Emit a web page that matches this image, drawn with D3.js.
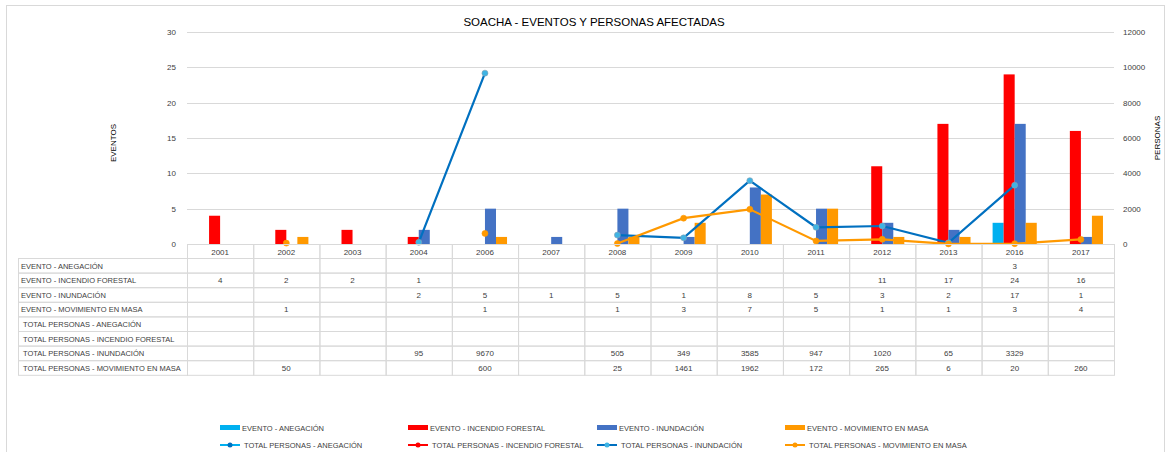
<!DOCTYPE html>
<html lang="es">
<head>
  <meta charset="UTF-8">
  <title>Soacha</title>
  <script src="https://cdn.jsdelivr.net/npm/d3@7"></script>
  <style>
    body { margin: 0; background: #fff; }
    text { font-family: 'Liberation Sans', Arial, sans-serif; fill: #404040; }
    .grid line { stroke: #d9d9d9; }
    .cell { fill: none; stroke: #d9d9d9; stroke-width: 1; }
  </style>
</head>
<body>
  <div id="chart"></div>
  <script>
    // Data
    const years = ['2001', '2002', '2003', '2004', '2006', '2007', '2008', '2009', '2010', '2011', '2012', '2013', '2016', '2017'];
    const eventoAnegacion = [null, null, null, null, null, null, null, null, null, null, null, null, 3, null];
    const eventoIncendio = [4, 2, 2, 1, null, null, null, null, null, null, 11, 17, 24, 16];
    const eventoInundacion = [null, null, null, 2, 5, 1, 5, 1, 8, 5, 3, 2, 17, 1];
    const eventoMovimiento = [null, 1, null, null, 1, null, 1, 3, 7, 5, 1, 1, 3, 4];
    const personasAnegacion = [null, null, null, null, null, null, null, null, null, null, null, null, null, null];
    const personasIncendio = [null, null, null, null, null, null, null, null, null, null, null, null, null, null];
    const personasInundacion = [null, null, null, 95, 9670, null, 505, 349, 3585, 947, 1020, 65, 3329, null];
    const personasMovimiento = [null, 50, null, null, 600, null, 25, 1461, 1962, 172, 265, 6, 20, 260];
    const leftTicks = [0, 5, 10, 15, 20, 25, 30];
    const rightTicks = [0, 2000, 4000, 6000, 8000, 10000, 12000];

    const barSeries = [
      { name: 'EVENTO  - ANEGACIÓN', values: eventoAnegacion, color: '#00b0f0' },
      { name: 'EVENTO  - INCENDIO FORESTAL', values: eventoIncendio, color: '#ff0000' },
      { name: 'EVENTO  - INUNDACIÓN', values: eventoInundacion, color: '#4472c4' },
      { name: 'EVENTO  - MOVIMIENTO EN MASA', values: eventoMovimiento, color: '#ff9900' }
    ];
    const lineSeries = [
      { name: 'TOTAL PERSONAS - ANEGACIÓN', values: personasAnegacion, color: '#00b0f0', marker: '#0070c0' },
      { name: 'TOTAL PERSONAS - INCENDIO FORESTAL', values: personasIncendio, color: '#ff0000', marker: '#ff0000' },
      { name: 'TOTAL PERSONAS - INUNDACIÓN', values: personasInundacion, color: '#0070c0', marker: '#3fb4e4' },
      { name: 'TOTAL PERSONAS - MOVIMIENTO EN MASA', values: personasMovimiento, color: '#ff9900', marker: '#ff9900' }
    ];

    const W = 1171, H = 452;
    const plot = { left: 187, right: 1114, top: 32, bottom: 244 };
    const tableLeft = 18, rowH = 14.6, headH = 14;

    const svg = d3.select('#chart').append('svg')
      .attr('width', W).attr('height', H);

    // outer frame
    svg.append('rect')
      .attr('x', 6.5).attr('y', 5.5).attr('width', 1158).attr('height', 460)
      .attr('fill', 'none').attr('stroke', '#d9d9d9');

    svg.append('text')
      .attr('x', 594).attr('y', 26)
      .attr('text-anchor', 'middle')
      .style('font-size', '11.5px').style('fill', '#000')
      .text('SOACHA - EVENTOS Y PERSONAS AFECTADAS');

    const x = d3.scaleBand().domain(years).range([plot.left, plot.right]);
    const xs = d3.scaleBand().domain(d3.range(barSeries.length))
      .range([0, x.bandwidth()]).paddingInner(0).paddingOuter(1);
    const yL = d3.scaleLinear().domain([0, 30]).range([plot.bottom, plot.top]);
    const yR = d3.scaleLinear().domain([0, 12000]).range([plot.bottom, plot.top]);

    // gridlines
    svg.append('g').attr('class', 'grid')
      .selectAll('line').data(leftTicks).enter().append('line')
      .attr('x1', plot.left).attr('x2', plot.right)
      .attr('y1', d => Math.round(yL(d)) + 0.5).attr('y2', d => Math.round(yL(d)) + 0.5);

    // left axis
    const axL = svg.append('g')
      .attr('transform', `translate(${plot.left - 8},0)`)
      .call(d3.axisLeft(yL).tickValues(leftTicks).tickSize(0));
    axL.select('.domain').remove();
    axL.selectAll('text').style('font-size', '8px').style('fill', '#404040');

    // right axis
    const axR = svg.append('g')
      .attr('transform', `translate(${plot.right + 6},0)`)
      .call(d3.axisRight(yR).tickValues(rightTicks).tickSize(0).tickFormat(d3.format('d')));
    axR.select('.domain').remove();
    axR.selectAll('text').style('font-size', '8px').style('fill', '#404040');

    svg.append('text')
      .attr('transform', `translate(116, 143) rotate(-90)`)
      .attr('text-anchor', 'middle')
      .style('font-size', '8px').style('fill', '#000')
      .text('EVENTOS');
    svg.append('text')
      .attr('transform', `translate(1160, 138) rotate(-90)`)
      .attr('text-anchor', 'middle')
      .style('font-size', '8px').style('fill', '#000')
      .text('PERSONAS');

    // bars
    barSeries.forEach((s, i) => {
      svg.append('g').selectAll('rect')
        .data(years.map((yr, j) => ({ yr, v: s.values[j] })).filter(d => d.v != null))
        .enter().append('rect')
        .attr('x', d => x(d.yr) + xs(i))
        .attr('width', xs.bandwidth())
        .attr('y', d => yL(d.v))
        .attr('height', d => yL(0) - yL(d.v))
        .attr('fill', s.color);
    });

    // lines
    lineSeries.forEach(s => {
      const pts = years.map((yr, j) => ({ yr, v: s.values[j] }));
      const line = d3.line()
        .defined(d => d.v != null)
        .x(d => x(d.yr) + x.bandwidth() / 2)
        .y(d => yR(d.v));
      svg.append('path')
        .datum(pts)
        .attr('d', line)
        .attr('fill', 'none')
        .attr('stroke', s.color)
        .attr('stroke-width', 2.2);
      svg.append('g').selectAll('circle')
        .data(pts.filter(d => d.v != null))
        .enter().append('circle')
        .attr('cx', d => x(d.yr) + x.bandwidth() / 2)
        .attr('cy', d => yR(d.v))
        .attr('r', 3)
        .attr('fill', s.marker)
        .attr('stroke', s.marker === '#3fb4e4' ? '#8aa0b0' : s.marker)
        .attr('stroke-width', 0.6);
    });

    // data table
    const table = svg.append('g');
    const rows = barSeries.concat(lineSeries);
    // header row (years)
    years.forEach(yr => {
      table.append('rect').attr('class', 'cell')
        .attr('x', x(yr) + 0.5).attr('y', plot.bottom + 0.5)
        .attr('width', x.bandwidth()).attr('height', headH);
      table.append('text')
        .attr('x', x(yr) + x.bandwidth() / 2).attr('y', plot.bottom + 10.5)
        .attr('text-anchor', 'middle')
        .style('font-size', '8px')
        .text(yr);
    });
    rows.forEach((s, r) => {
      const top = plot.bottom + headH + r * rowH;
      table.append('rect').attr('class', 'cell')
        .attr('x', tableLeft + 0.5).attr('y', top + 0.5)
        .attr('width', plot.left - tableLeft).attr('height', rowH);
      table.append('text')
        .attr('x', r < 4 ? 21 : 23).attr('y', top + 10.5)
        .style('font-size', '7.5px')
        .text(s.name);
      years.forEach((yr, j) => {
        table.append('rect').attr('class', 'cell')
          .attr('x', x(yr) + 0.5).attr('y', top + 0.5)
          .attr('width', x.bandwidth()).attr('height', rowH);
        if (s.values[j] != null) {
          table.append('text')
            .attr('x', x(yr) + x.bandwidth() / 2).attr('y', top + 10.5)
            .attr('text-anchor', 'middle')
            .style('font-size', '8px')
            .text(s.values[j]);
        }
      });
    });

    // legend
    const legX = [220, 408, 597, 785];
    const legend = svg.append('g');
    barSeries.forEach((s, i) => {
      legend.append('rect')
        .attr('x', legX[i]).attr('y', 425).attr('width', 20).attr('height', 5)
        .attr('fill', s.color);
      legend.append('text')
        .attr('x', legX[i] + 22).attr('y', 431)
        .style('font-size', '7.5px')
        .text(s.name);
    });
    lineSeries.forEach((s, i) => {
      legend.append('line')
        .attr('x1', legX[i]).attr('x2', legX[i] + 20)
        .attr('y1', 445).attr('y2', 445)
        .attr('stroke', s.color).attr('stroke-width', 2);
      legend.append('circle')
        .attr('cx', legX[i] + 10).attr('cy', 445).attr('r', 2.5)
        .attr('fill', s.marker);
      legend.append('text')
        .attr('x', legX[i] + 24).attr('y', 448)
        .style('font-size', '7.5px')
        .text(s.name);
    });
  </script>
</body>
</html>
